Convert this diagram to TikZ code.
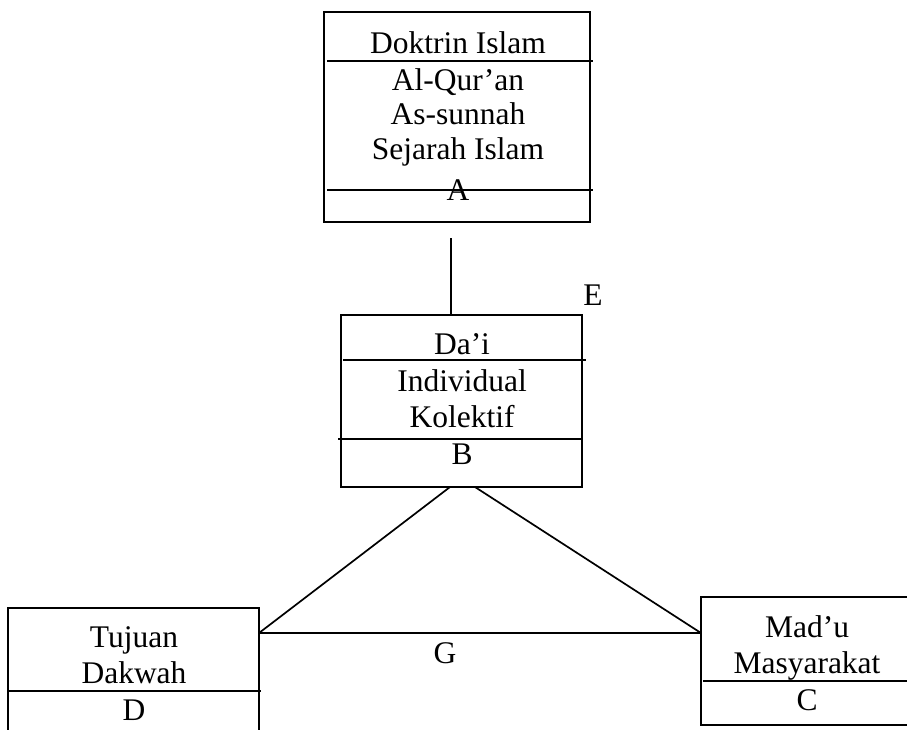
\documentclass[tikz,border=0pt]{standalone}
\usepackage{fontspec}
\setmainfont{Liberation Serif}
\begin{document}
\begin{tikzpicture}[x=1pt,y=-1pt,
  lbl/.style={anchor=base,inner sep=0pt,font=\fontsize{31.5}{37}\selectfont},
  border/.style={line width=1.8pt},
  divider/.style={line width=2.4pt},
  conn/.style={line width=1.7pt}]
\useasboundingbox (0,0) rectangle (907,729);
% Box A
\coordinate (a1) at (324,12); \coordinate (a2) at (590,222);
\draw[border] (a1) rectangle (a2);
\coordinate (ad1l) at (327,61); \coordinate (ad1r) at (593,61);
\coordinate (ad2l) at (327,190); \coordinate (ad2r) at (593,190);
\draw[divider] (ad1l) -- (ad1r);
\draw[divider] (ad2l) -- (ad2r);
\node[lbl] (ta) at (458,53) {Doktrin Islam};
\node[lbl] (tb) at (458,90) {Al-Qur’an};
\node[lbl] (tc) at (458,124) {As-sunnah};
\node[lbl] (td) at (458,159) {Sejarah Islam};
\node[lbl] (tA) at (458,200) {A};
% connector A-B
\coordinate (vtop) at (451,238); \coordinate (vbot) at (451,315);
\draw[conn] (vtop) -- (vbot);
% Box B
\coordinate (b1) at (341,315); \coordinate (b2) at (582,487);
\draw[border] (b1) rectangle (b2);
\coordinate (bd1l) at (343,360); \coordinate (bd1r) at (586,360);
\coordinate (bd2l) at (338,439); \coordinate (bd2r) at (581,439);
\draw[divider] (bd1l) -- (bd1r);
\draw[divider] (bd2l) -- (bd2r);
\node[lbl] (dai) at (462,354) {Da’i};
\node[lbl] (ind) at (462,391) {Individual};
\node[lbl] (kol) at (462,427) {Kolektif};
\node[lbl] (tB) at (462,464) {B};
\node[lbl] (tE) at (593,305) {E};
% Box D
\coordinate (dbl) at (8,735); \coordinate (dtl) at (8,608);
\coordinate (dtr) at (259,608); \coordinate (dbr) at (259,735);
\draw[border] (dbl) -- (dtl) -- (dtr) -- (dbr);
\coordinate (ddl) at (8,691); \coordinate (ddr) at (261,691);
\draw[divider] (ddl) -- (ddr);
\node[lbl] (tuj) at (134,647) {Tujuan};
\node[lbl] (dak) at (134,683) {Dakwah};
\node[lbl] (tD) at (134,720) {D};
% Box C
\coordinate (ctr) at (912,597); \coordinate (ctl) at (701,597);
\coordinate (cbl) at (701,725); \coordinate (cbr) at (912,725);
\draw[border] (ctr) -- (ctl) -- (cbl) -- (cbr);
\coordinate (cdl) at (703,681); \coordinate (cdr) at (912,681);
\draw[divider] (cdl) -- (cdr);
\node[lbl] (mad) at (807,637) {Mad’u};
\node[lbl] (mas) at (807,673) {Masyarakat};
\node[lbl] (tC) at (807,710) {C};
% triangle
\coordinate (apexl) at (450,487); \coordinate (apexr) at (475,487);
\coordinate (dj) at (259,633); \coordinate (cj) at (701,633);
\draw[conn] (apexl) -- (dj);
\draw[conn] (apexr) -- (cj);
\draw[conn] (dj) -- (cj);
\node[lbl] (tG) at (445,663) {G};
\end{tikzpicture}
\end{document}
